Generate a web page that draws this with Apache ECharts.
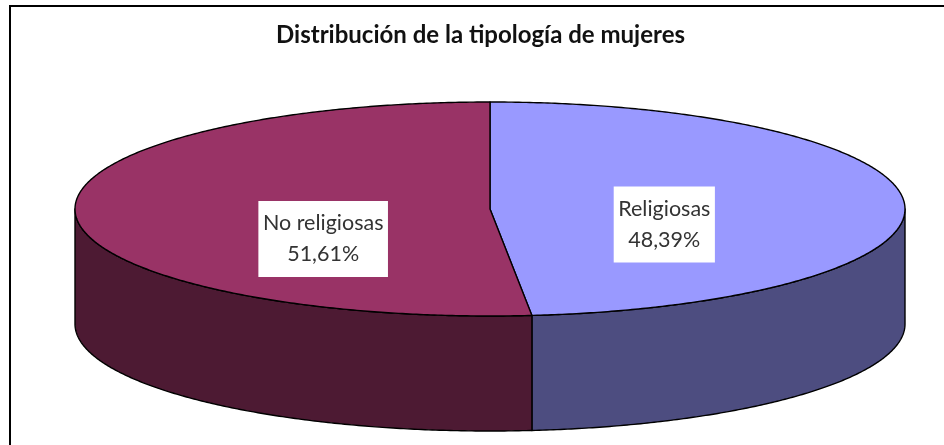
<!DOCTYPE html>
<html>
<head>
<meta charset="utf-8">
<title>Distribución de la tipología de mujeres</title>
<script src="https://cdn.jsdelivr.net/npm/echarts@6/dist/echarts.min.js"></script>
<style>
html,body{margin:0;padding:0;background:#fff;}
#main{width:944px;height:445px;}
</style>
</head>
<body>
<div id="main"></div>
<script>
var chartTitle = 'Distribución de la tipología de mujeres';
// sectores en sentido horario desde las 12
var categories = ['Religiosas', 'No religiosas'];
var porcentajes = [48.39, 51.61];
var etiquetas = ['48,39%', '51,61%'];

var coloresTapa = ['#9999ff', '#993366'];
var coloresLado = ['#4d4d80', '#4d1a33'];
var posEtiqueta = [[0.42, -0.145], [-0.402, -0.28]]; // en unidades de los ejes
var grosor = 1.075; // altura del cilindro, en unidades del eje y
var font = 'Lato, Carlito, sans-serif';

var total = 0;
for (var i = 0; i < porcentajes.length; i++) total += porcentajes[i];
var filas = [];
var acum = 0;
for (var i = 0; i < porcentajes.length; i++) {
    filas.push([acum / total, (acum + porcentajes[i]) / total, i]);
    acum += porcentajes[i];
}

function punto(f, bajar) {
    var t = f * Math.PI * 2;
    return [Math.sin(t), Math.cos(t) - (bajar || 0)];
}

function renderSector(params, api) {
    var ini = api.value(0), fin = api.value(1), idx = api.value(2);
    var hijos = [];
    var paso = 1 / 720;
    var f;

    // cara lateral: solo la mitad frontal (de 0.25 a 0.75)
    var a = Math.max(ini, 0.25), b = Math.min(fin, 0.75);
    if (b > a) {
        var lado = [];
        for (f = a; f < b; f += paso) lado.push(api.coord(punto(f)));
        lado.push(api.coord(punto(b)));
        for (f = b; f > a; f -= paso) lado.push(api.coord(punto(f, grosor)));
        lado.push(api.coord(punto(a, grosor)));
        hijos.push({
            type: 'polygon',
            shape: {points: lado},
            style: {fill: coloresLado[idx], stroke: '#000', lineWidth: 1.4, lineJoin: 'round'}
        });
    }

    // tapa
    var tapa = [api.coord([0, 0])];
    for (f = ini; f < fin; f += paso) tapa.push(api.coord(punto(f)));
    tapa.push(api.coord(punto(fin)));
    hijos.push({
        type: 'polygon',
        shape: {points: tapa},
        style: {fill: coloresTapa[idx], stroke: '#000', lineWidth: 1.4, lineJoin: 'round'}
    });

    var p = api.coord(posEtiqueta[idx]);
    hijos.push({
        type: 'text',
        z2: 10,
        style: {
            x: p[0],
            y: p[1],
            text: categories[idx] + '\n' + etiquetas[idx],
            align: 'center',
            verticalAlign: 'middle',
            fontFamily: font,
            fontSize: 21.5,
            lineHeight: 31,
            fill: '#333',
            backgroundColor: '#fff',
            padding: [7, 4.5, 7, 4.5]
        }
    });
    return {type: 'group', children: hijos};
}

var myChart = echarts.init(document.getElementById('main'));
var option = {
    animation: false,
    backgroundColor: '#fff',
    title: {
        text: chartTitle,
        left: 475.5,
        top: 18,
        textAlign: 'center',
        textStyle: {fontFamily: font, fontSize: 24, fontWeight: 'bold', color: '#111'}
    },
    grid: {left: 75, top: 102, width: 830, height: 329},
    xAxis: {type: 'value', min: -1, max: 1, show: false},
    yAxis: {type: 'value', min: -1 - grosor, max: 1, show: false},
    graphic: [{
        // marco: solo arriba y a la izquierda
        type: 'polyline',
        silent: true,
        shape: {points: [[10, 445], [10, 6], [944, 6]]},
        style: {fill: 'none', stroke: '#000', lineWidth: 2}
    }],
    series: [{
        type: 'custom',
        coordinateSystem: 'cartesian2d',
        clip: false,
        encode: {x: 0, y: 1},
        data: filas,
        renderItem: renderSector
    }]
};
myChart.setOption(option);
</script>
</body>
</html>
